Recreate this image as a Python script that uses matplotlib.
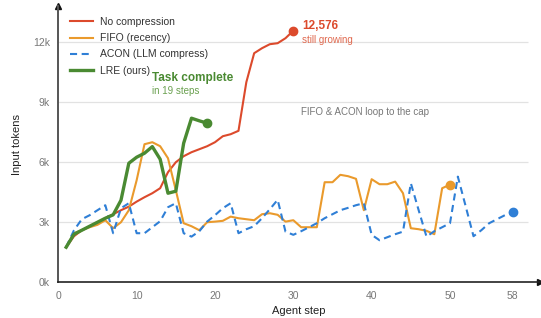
import numpy as np
import matplotlib
matplotlib.use('Agg')
import matplotlib.pyplot as plt

plt.rcParams['font.family'] = ['Liberation Sans', 'DejaVu Sans']

# token counts per agent step (thousands)
no_comp = [1.75, 2.3, 2.6, 2.8, 3.0, 3.2, 3.4, 3.6, 3.78, 4.03, 4.25, 4.45, 4.7, 5.5, 6.0,
           6.3, 6.5, 6.65, 6.8, 7.0, 7.3, 7.4, 7.57, 10.0, 11.45, 11.7, 11.9, 11.95, 12.2, 12.576]
fifo = [1.75, 2.45, 2.6, 2.75, 2.87, 3.1, 2.7, 3.0, 3.6, 5.1, 6.9, 7.0, 6.8, 6.2, 4.6,
        2.95, 2.8, 2.6, 3.0, 3.03, 3.07, 3.28, 3.2, 3.15, 3.1, 3.4, 3.45, 3.37, 3.03, 3.1,
        2.75, 2.75, 2.75, 5.0, 5.0, 5.37, 5.3, 5.17, 3.6, 5.15, 4.9, 4.9, 5.03, 4.45, 2.7,
        2.65, 2.57, 2.4, 4.7, 4.88]
acon = [1.75, 2.6, 3.15, 3.35, 3.6, 3.85, 2.45, 3.7, 3.95, 2.45, 2.45, 2.75, 3.05, 3.75, 3.95,
        2.45, 2.28, 2.55, 3.03, 3.35, 3.7, 3.95, 2.45, 2.65, 2.8, 3.2, 3.65, 4.12, 2.53, 2.37,
        2.55, 2.75, 2.95, 3.2, 3.4, 3.6, 3.72, 3.85, 3.95, 2.37, 2.1, 2.25, 2.4, 2.53, 4.95,
        3.6, 2.28, 2.55, 2.75, 2.95, 5.28, 3.8, 2.3, 2.6, 2.95, 3.15, 3.35, 3.5]
lre = [1.75, 2.4, 2.6, 2.8, 3.0, 3.2, 3.37, 4.1, 5.95, 6.25, 6.45, 6.78, 6.15, 4.45, 4.55,
       6.95, 8.2, 8.07, 7.95]

series = [('No compression', no_comp, '#dc4a2c'),
          ('FIFO (recency)', fifo, '#ea9a2c'),
          ('ACON (LLM compress)', acon, '#2f7fd6'),
          ('LRE (ours)', lre, '#4a8a32')]

y_ticks = [0, 3, 6, 9, 12]
y_tick_labels = ['0k', '3k', '6k', '9k', '12k']
x_ticks = [0, 10, 20, 30, 40, 50, 58]

fig = plt.figure(figsize=(5.41, 3.18), dpi=100)
ax = fig.add_axes([0.1078, 0.1125, 0.8905, 0.868])

ax.hlines(y_ticks[1:], 0, 60, color='#e2e2e2', linewidth=0.9, zorder=0)

for name, vals, col in series:
    steps = np.arange(1, len(vals) + 1)
    lw = 2.4 if name.startswith('LRE') else 1.5
    ls = (0, (3.4, 2.2)) if name.startswith('ACON') else '-'
    ax.plot(steps, vals, color=col, linewidth=lw, linestyle=ls, label=name,
            solid_joinstyle='round', zorder=3 if name.startswith('LRE') else 2)
    ax.plot(steps[-1], vals[-1], 'o', color=col, markersize=6, zorder=4)

# annotations
ax.text(31.1, 12.8, '12,576', color='#dc4a2c', fontsize=8.5, fontweight='bold', va='center')
ax.text(31.1, 12.1, 'still growing', color='#e0694f', fontsize=7, va='center')
ax.text(11.9, 10.2, 'Task complete', color='#4a8a32', fontsize=8.5, fontweight='bold', va='center')
ax.text(11.9, 9.55, 'in 19 steps', color='#6aa04f', fontsize=7, va='center')
ax.text(31.0, 8.53, 'FIFO & ACON loop to the cap', color='#777777', fontsize=7, va='center')

ax.set_xlim(0, 61.5)
ax.set_ylim(0, 13.8)
ax.set_xticks(x_ticks)
ax.set_yticks(y_ticks)
ax.set_yticklabels(y_tick_labels)
ax.tick_params(length=0, labelsize=7.5, labelcolor='#777777', pad=6)

for s in ['top', 'right']:
    ax.spines[s].set_visible(False)
ax.spines['left'].set_color('#555555')
ax.spines['bottom'].set_color('#222222')
ax.spines['left'].set_linewidth(1.4)
ax.spines['bottom'].set_linewidth(1.2)
ax.plot(1, 0, '>', color='#111111', markersize=5, transform=ax.transAxes, clip_on=False)
ax.plot(0, 1, '^', color='#111111', markersize=5, transform=ax.transAxes, clip_on=False)

ax.set_xlabel('Agent step', fontsize=8, color='#222222', labelpad=4)
ax.set_ylabel('Input tokens', fontsize=8, color='#222222', labelpad=8)

ax.legend(loc='upper left', bbox_to_anchor=(0.005, 0.995), frameon=False, fontsize=7.5,
          handlelength=2.2, labelspacing=0.6, handletextpad=0.7, labelcolor='#333333')

fig.savefig('out.png', dpi=100)
